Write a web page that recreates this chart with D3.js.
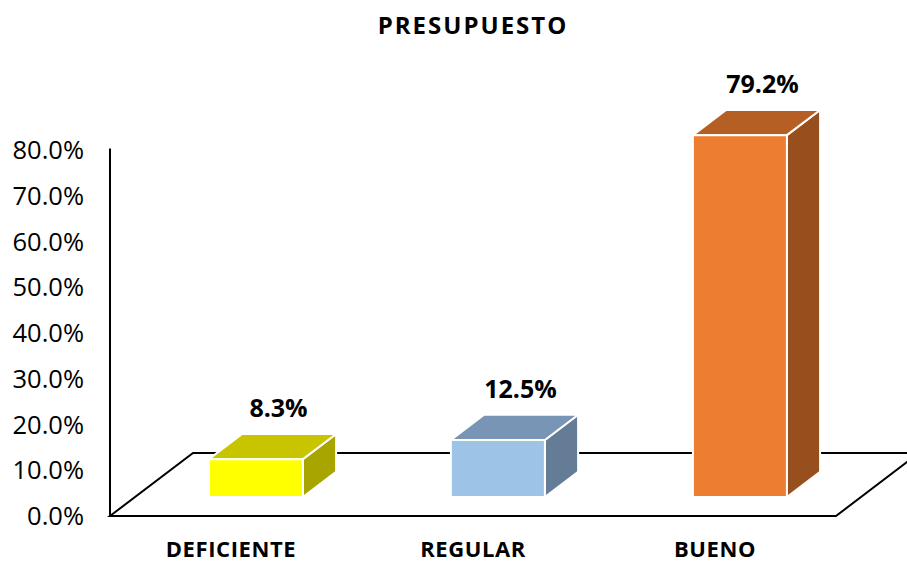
<!DOCTYPE html>
<html>
<head>
<meta charset="utf-8">
<script src="https://cdn.jsdelivr.net/npm/d3@7"></script>
<style>
  body { margin: 0; background: #fff; }
  text { font-family: "Open Sans", "Liberation Sans", sans-serif; fill: #000; }
</style>
</head>
<body>
<svg id="chart"></svg>
<script>
// data
var categories = ["DEFICIENTE", "REGULAR", "BUENO"];
var values = [0.083, 0.125, 0.792];
var tickValues = [0, 0.1, 0.2, 0.3, 0.4, 0.5, 0.6, 0.7, 0.8];
var frontColors = ["#FFFF00", "#9DC3E6", "#ED7D31"];
var topColors = ["#C8C400", "#7995B6", "#B65F25"];
var sideColors = ["#A8A500", "#657C97", "#984F1E"];

var width = 907, height = 562;
var left = 110, right = 836, floorY = 516;
var depthX = 83, depthY = -63;   // full floor depth
var f0 = 0.3, f1 = 0.7;          // bar sits in middle of the depth

var svg = d3.select("#chart").attr("width", width).attr("height", height);

var x = d3.scaleBand().domain(categories).range([left, right]);
var y = d3.scaleLinear().domain([0, 0.8]).range([floorY, 150.4]);
var fmt = d3.format(".1%");

// title
svg.append("text")
    .attr("x", 473).attr("y", 34)
    .attr("text-anchor", "middle")
    .style("font-size", "24px").style("font-weight", "bold")
    .style("letter-spacing", "2px")
    .text("PRESUPUESTO");

// floor
var line = svg.append("g").attr("fill", "none").attr("stroke", "#000").attr("stroke-width", 2);
line.append("path")
    .attr("d", "M" + left + "," + floorY + "L" + right + "," + floorY +
               "L" + (right + depthX) + "," + (floorY + depthY) +
               "L" + (left + depthX) + "," + (floorY + depthY) + "Z");
line.append("line")
    .attr("x1", left).attr("x2", left)
    .attr("y1", y(0.8) - 2).attr("y2", floorY);

// y tick labels
svg.append("g").selectAll("text")
    .data(tickValues)
  .enter().append("text")
    .attr("x", 84)
    .attr("y", d => y(d))
    .attr("dy", "0.35em")
    .attr("text-anchor", "end")
    .style("font-size", "25.5px")
    .text(d => fmt(d));

// bars
var barW = 94;
var bx = d => x(d) + x.bandwidth() / 2 - barW / 2 + f0 * depthX;
var off0 = f0 * depthY;
var ddx = (f1 - f0) * depthX, ddy = (f1 - f0) * depthY;

var bars = svg.append("g").selectAll("g")
    .data(categories)
  .enter().append("g")
    .attr("stroke", "#fff").attr("stroke-width", 2).attr("stroke-linejoin", "round");

bars.append("path")   // side
    .attr("fill", (d, i) => sideColors[i])
    .attr("d", (d, i) => {
      var x1 = bx(d) + barW, yt = y(values[i]) + off0, yb = y(0) + off0;
      return "M" + x1 + "," + yt + "L" + (x1 + ddx) + "," + (yt + ddy) +
             "L" + (x1 + ddx) + "," + (yb + ddy) + "L" + x1 + "," + yb + "Z";
    });
bars.append("path")   // top
    .attr("fill", (d, i) => topColors[i])
    .attr("d", (d, i) => {
      var x0 = bx(d), yt = y(values[i]) + off0;
      return "M" + x0 + "," + yt + "L" + (x0 + ddx) + "," + (yt + ddy) +
             "L" + (x0 + barW + ddx) + "," + (yt + ddy) + "L" + (x0 + barW) + "," + yt + "Z";
    });
bars.append("rect")   // front
    .attr("fill", (d, i) => frontColors[i])
    .attr("x", d => bx(d))
    .attr("y", (d, i) => y(values[i]) + off0)
    .attr("width", barW)
    .attr("height", (d, i) => y(0) - y(values[i]));

// value labels
svg.append("g").selectAll("text")
    .data(categories)
  .enter().append("text")
    .attr("x", d => bx(d) + barW / 2 + ddx / 2 + 6)
    .attr("y", (d, i) => y(values[i]) + off0 + ddy - 17)
    .attr("text-anchor", "middle")
    .style("font-size", "25px").style("font-weight", "bold")
    .text((d, i) => fmt(values[i]));

// category labels
svg.append("g").selectAll("text")
    .data(categories)
  .enter().append("text")
    .attr("x", d => x(d) + x.bandwidth() / 2)
    .attr("y", 557)
    .attr("text-anchor", "middle")
    .style("font-size", "22px").style("font-weight", "bold")
    .style("letter-spacing", "0.6px")
    .text(d => d);
</script>
</body>
</html>
